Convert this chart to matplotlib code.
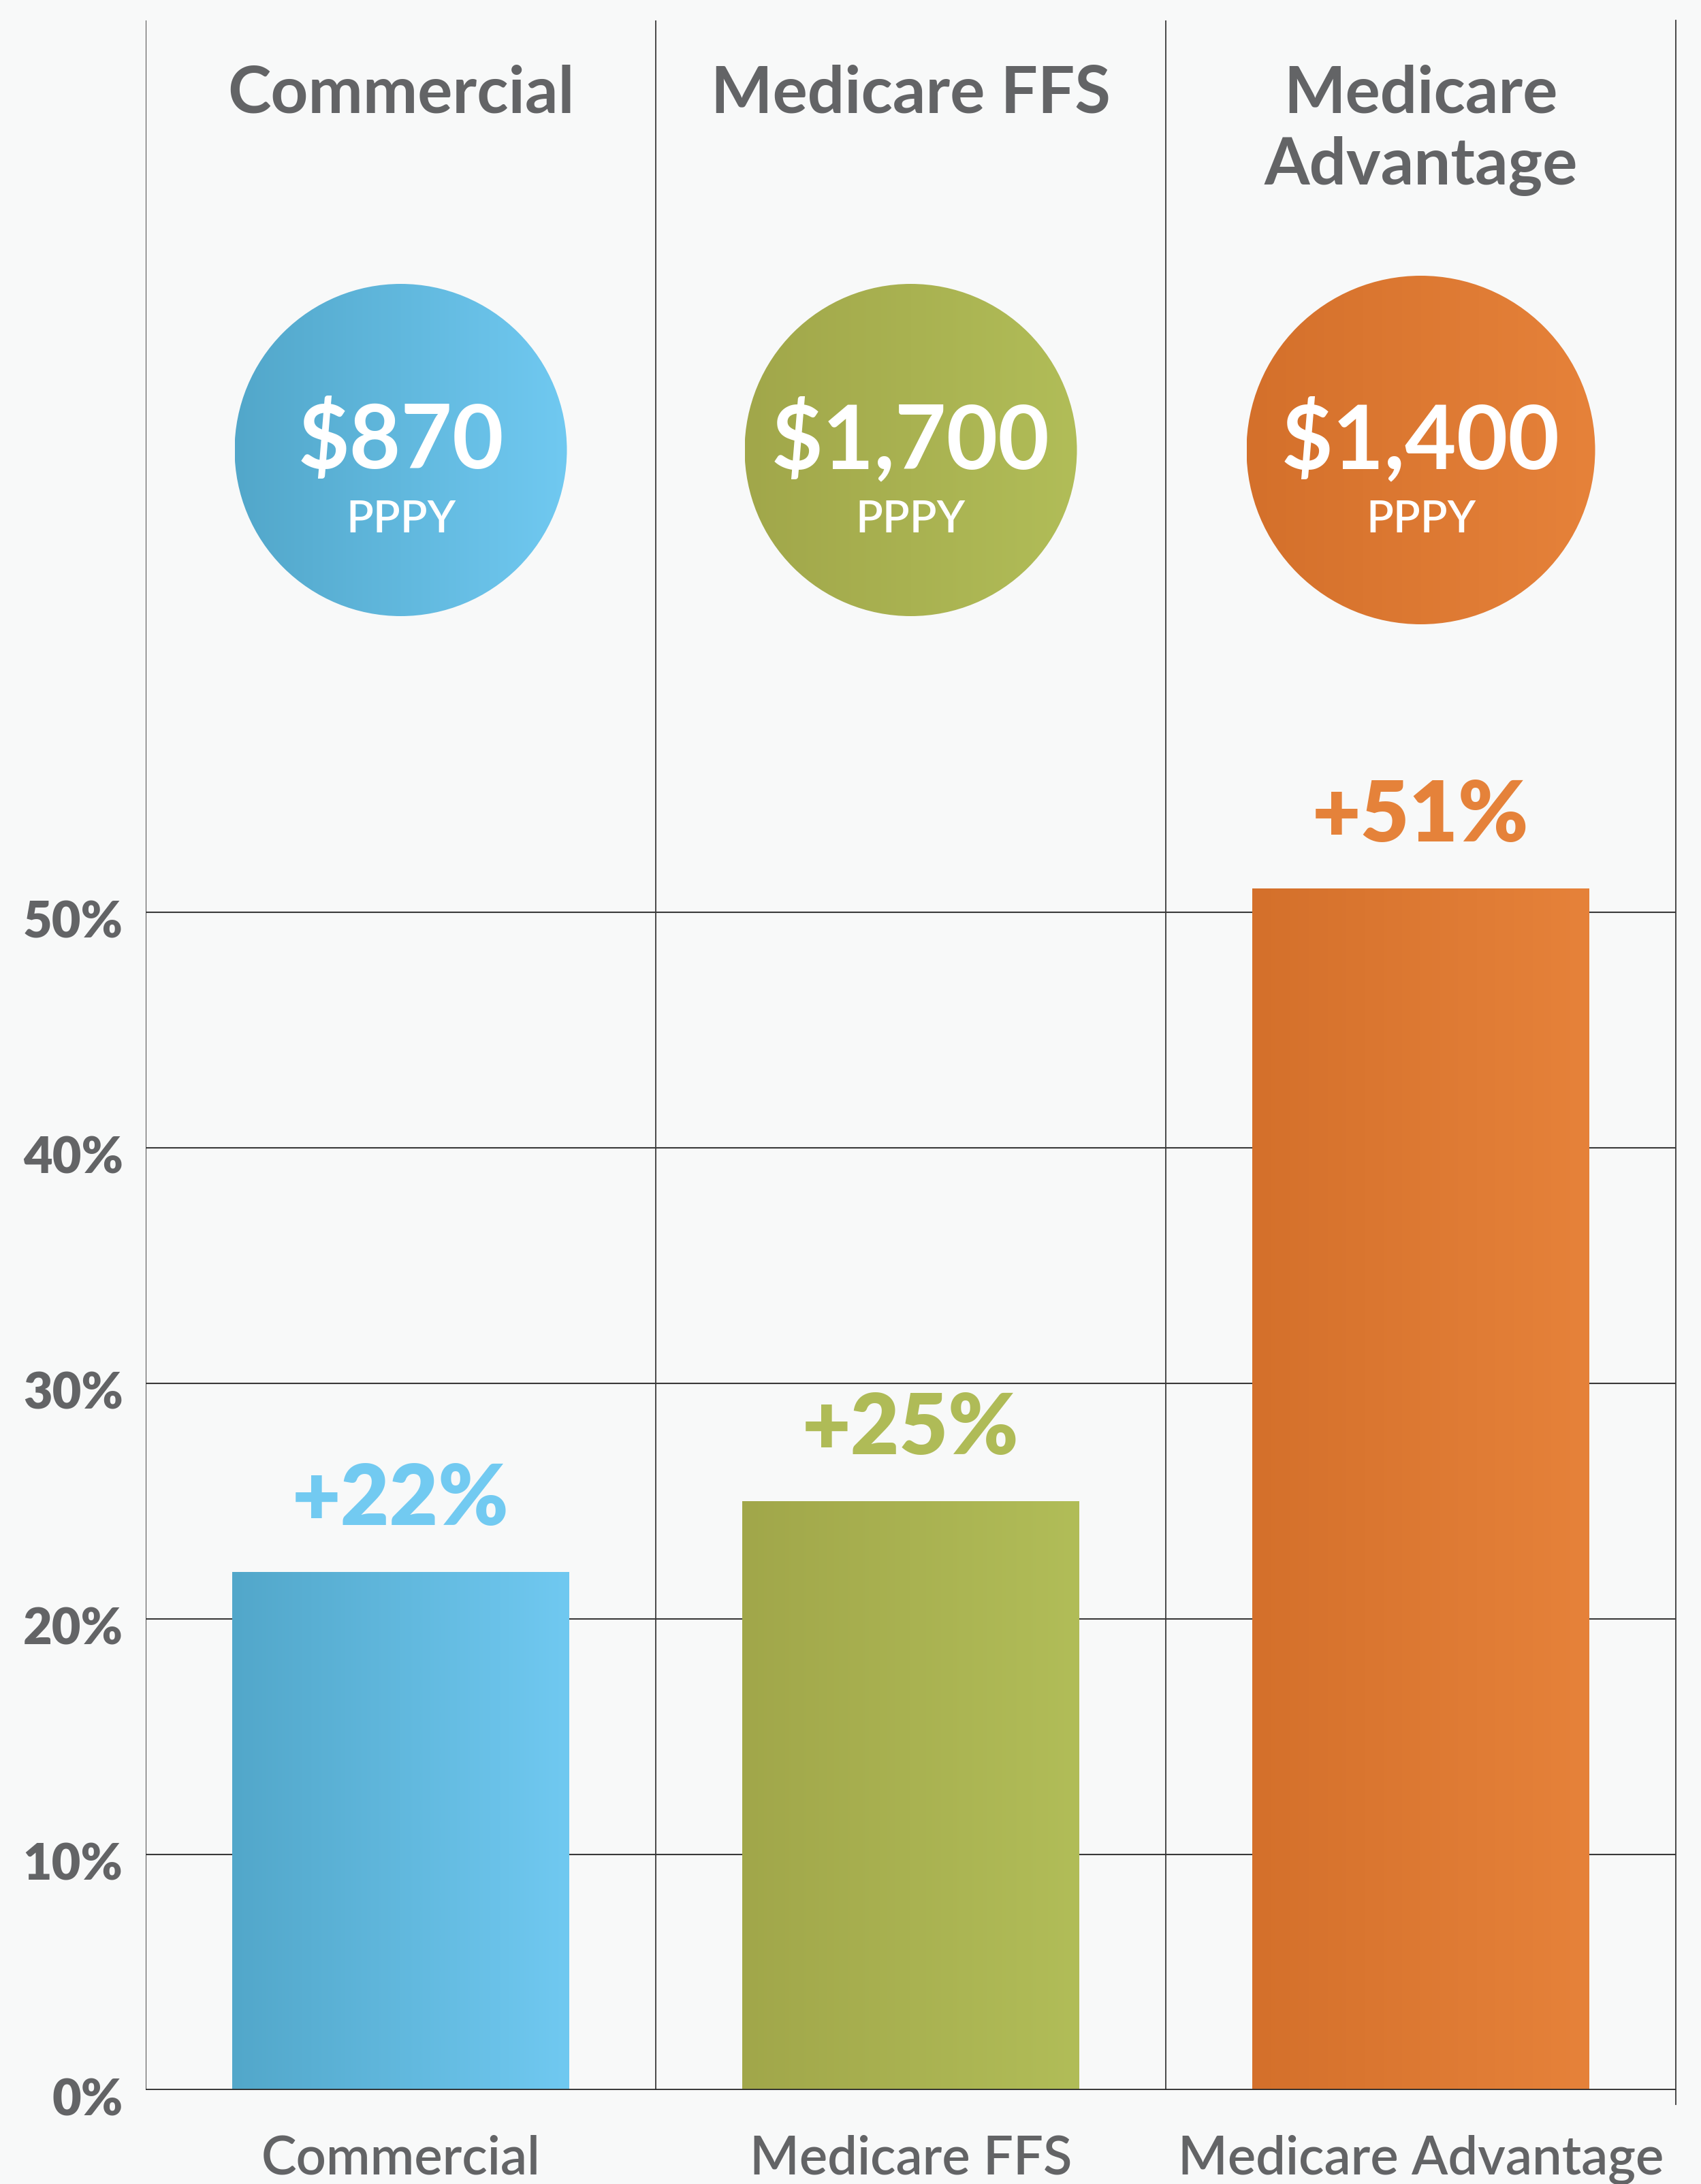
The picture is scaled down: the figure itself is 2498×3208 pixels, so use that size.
"""
    Cost increase by payer - bar chart with header bubbles
"""

import matplotlib
matplotlib.use("Agg")
import matplotlib.pyplot as plt
import matplotlib.transforms as mtransforms
from matplotlib.colors import LinearSegmentedColormap
from matplotlib.patches import Ellipse
import numpy as np


categories = ["Commercial", "Medicare FFS", "Medicare Advantage"]
header_lines = [["Commercial"], ["Medicare FFS"], ["Medicare", "Advantage"]]
increase_pct = [22, 25, 51]
cost_labels = ["$870", "$1,700", "$1,400"]
cost_unit = "PPPY"
yticks = [0, 10, 20, 30, 40, 50]

GRAY = "#636466"
BG = "#f8f9f9"
LINE = "#3a3a3a"
grad_left = ["#52a7ca", "#a1a74a", "#d4702b"]
grad_right = ["#70c9f1", "#b1bd58", "#e6823a"]
label_colors = ["#72caf1", "#afbb57", "#e5823a"]
circle_r_px = [244, 244, 256]

plt.rcParams["font.family"] = ["Lato", "DejaVu Sans"]

W, H, DPI = 2498, 3208, 100
PX10 = 34.6  # pixels per 1% on the y axis

fig = plt.figure(figsize=(W / DPI, H / DPI), dpi=DPI, facecolor=BG)
ax = fig.add_axes([214 / W, 1 - 3070 / H, (2461 - 214) / W, 3040 / H])
ax.set_facecolor(BG)
XLIM = (-0.5, 2.5)
YLIM = (0, 3040 / PX10)
ax.set_xlim(*XLIM)
ax.set_ylim(*YLIM)

for s in ax.spines.values():
    s.set_visible(False)

# grid
ax.set_yticks(yticks)
ax.set_yticklabels(["%d%%" % t for t in yticks], fontweight="heavy")
ax.tick_params(axis="y", length=0, pad=24, labelsize=53, labelcolor=GRAY)
shift = mtransforms.ScaledTranslation(0, -7 / 72, fig.dpi_scale_trans)
for lbl in ax.get_yticklabels():
    lbl.set_transform(lbl.get_transform() + shift)
ax.set_xticks([])
ax.yaxis.grid(True, color=LINE, lw=1.5, zorder=1)
ax.set_axisbelow(True)
ax.axhline(0, color="#2a2a2a", lw=2.6, zorder=4)
for xv in [-0.5, 0.5, 1.5]:
    ax.axvline(xv, color=LINE, lw=1.3, zorder=1)
ax.plot([2.5, 2.5], [-0.6, YLIM[1]], color=LINE, lw=1.3, clip_on=False, zorder=1)

gradient = np.linspace(0, 1, 256).reshape(1, -1)

# bars with horizontal gradient
x = np.arange(len(categories))
bars = ax.bar(x, increase_pct, width=0.66, color="none", edgecolor="none", zorder=2)
for i, b in enumerate(bars):
    cmap = LinearSegmentedColormap.from_list("g%d" % i, [grad_left[i], grad_right[i]])
    x0, y0 = b.get_x(), b.get_y()
    im = ax.imshow(gradient, extent=[x0, x0 + b.get_width(), y0, y0 + b.get_height()],
                   aspect="auto", cmap=cmap, interpolation="bicubic", zorder=2)
    im.set_clip_path(b)
    ax.text(i, increase_pct[i] + 2.0, "+%d%%" % increase_pct[i], ha="center", va="baseline",
            fontsize=89, fontweight="heavy", color=label_colors[i], zorder=5)

# bubbles
p0 = ax.transData.transform((0, 0))
p1 = ax.transData.transform((1, 1))
sx, sy = p1[0] - p0[0], p1[1] - p0[1]
cy = (3070 - 661) / PX10
for i in range(len(categories)):
    r = circle_r_px[i]
    w, h = 2 * r / sx, 2 * r / sy
    circ = Ellipse((i, cy), w, h, facecolor="none", edgecolor="none")
    ax.add_patch(circ)
    cmap = LinearSegmentedColormap.from_list("c%d" % i, [grad_left[i], grad_right[i]])
    im = ax.imshow(gradient, extent=[i - w / 2, i + w / 2, cy - h / 2, cy + h / 2],
                   aspect="auto", cmap=cmap, interpolation="bicubic", zorder=2)
    im.set_clip_path(circ)
    ax.text(i, (3070 - 688) / PX10, cost_labels[i], ha="center", va="baseline",
            fontsize=94, fontweight="bold", color="white", zorder=5)
    ax.text(i, (3070 - 782) / PX10, cost_unit, ha="center", va="baseline",
            fontsize=47, fontweight="semibold", color="white", zorder=5)

# column headers
for i, lines in enumerate(header_lines):
    for k, line in enumerate(lines):
        ax.text(i, (3070 - 166 - 105 * k) / PX10, line, ha="center", va="baseline",
                fontsize=69, fontweight="bold", color=GRAY, zorder=5)

# category labels under the axis
for i, c in enumerate(categories):
    ax.text(i, -(3193 - 3070) / PX10, c, ha="center", va="baseline",
            fontsize=56, fontweight="semibold", color=GRAY, clip_on=False)

ax.set_xlim(*XLIM)
ax.set_ylim(*YLIM)

fig.savefig("out.png", dpi=DPI, facecolor=BG)
